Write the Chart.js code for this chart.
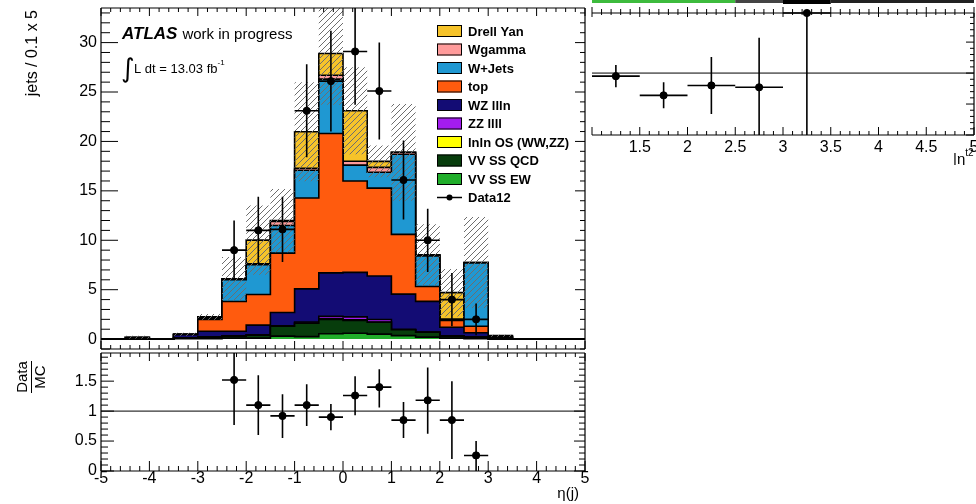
<!DOCTYPE html>
<html>
<head>
<meta charset="utf-8">
<script src="https://cdn.jsdelivr.net/npm/chart.js@4.4.1/dist/chart.umd.min.js"></script>
<style>
  html, body { margin: 0; padding: 0; background: #fff; }
  #page { position: relative; width: 976px; height: 504px; overflow: hidden; background: #fff; }
  canvas { position: absolute; }
  #side { left: 587px; top: 0; }
  #upper { left: 0; top: 0; }
  #lower { left: 0; top: 340px; }
</style>
</head>
<body>
<div id="page">
  <canvas id="side" width="392" height="165"></canvas>
  <canvas id="upper" width="600" height="354"></canvas>
  <canvas id="lower" width="600" height="164"></canvas>
</div>
<script>
// eta(j) binning, 20 bins of 0.5
const binEdges = [-5, -4.5, -4, -3.5, -3, -2.5, -2, -1.5, -1, -0.5, 0, 0.5, 1, 1.5, 2, 2.5, 3, 3.5, 4, 4.5, 5];

// background yields per bin, bottom of the stack first
const vvSSEW   = [0, 0, 0, 0.05, 0.05, 0.1, 0.1, 0.3, 0.25, 0.55, 0.6, 0.5, 0.35, 0.2, 0.1, 0.05, 0, 0, 0, 0];
const vvSSQCD  = [0, 0, 0, 0.05, 0.15, 0.2, 0.3, 1.0, 1.35, 1.45, 1.3, 1.2, 0.6, 0.5, 0.2, 0.15, 0.05, 0, 0, 0];
const lnlnOS   = [0, 0, 0, 0, 0, 0, 0, 0, 0.03, 0.05, 0.05, 0.03, 0, 0, 0, 0, 0, 0, 0, 0];
const zzllll   = [0, 0, 0, 0, 0, 0, 0.02, 0.05, 0.1, 0.25, 0.3, 0.25, 0.05, 0.02, 0, 0, 0, 0, 0, 0];
const wzllln   = [0, 0.05, 0, 0.35, 0.6, 0.5, 1.0, 1.35, 3.35, 4.4, 4.5, 4.4, 3.55, 3.1, 0.9, 0.45, 0.1, 0.02, 0, 0];
const topQuark = [0, 0, 0, 0, 1.2, 3.0, 3.1, 6.0, 9.2, 14.1, 9.25, 8.9, 6.05, 1.5, 0.7, 0.65, 0.1, 0, 0, 0];
const wJets    = [0, 0, 0, 0, 0.05, 2.2, 3.0, 2.8, 2.8, 5.5, 1.6, 1.6, 8.1, 3.1, 0.1, 6.4, 0, 0, 0, 0];
const wGamma   = [0, 0, 0, 0, 0.1, 0.1, 0.1, 0.4, 0.2, 0.4, 0.4, 0.5, 0.2, 0.1, 0, 0.05, 0, 0, 0, 0];
const drellYan = [0, 0.15, 0, 0.05, 0.1, 0, 2.4, 0.1, 3.7, 2.2, 5.1, 0.6, 0, 0, 2.7, 0, 0.1, 0, 0, 0];
// MC uncertainty (hatched band half-width)
const mcUnc    = [0, 0.15, 0, 0.15, 0.3, 2.2, 3.5, 3.2, 5.0, 5.2, 4.4, 1.6, 4.9, 3.1, 2.4, 4.6, 0.1, 0, 0, 0];

const stackNames  = ['VV SS EW', 'VV SS QCD', 'lnln OS (WW,ZZ)', 'ZZ llll', 'WZ llln', 'top', 'W+Jets', 'Wgamma', 'Drell Yan'];
const stackColors = ['#20ad2a', '#073d0c', '#ffff00', '#a31cf0', '#130c74', '#ff5b0e', '#1f98d2', '#ff9b9b', '#f6c32a'];
const stackValues = [vvSSEW, vvSSQCD, lnlnOS, zzllll, wzllln, topQuark, wJets, wGamma, drellYan];

// Data12
const dataEta  = [-2.25, -1.75, -1.25, -0.75, -0.25, 0.25, 0.75, 1.25, 1.75, 2.25, 2.75];
const dataJets = [9.0, 11.0, 11.1, 23.1, 26.1, 29.1, 25.1, 16.1, 10.0, 4.0, 2.0];
const dataErr  = [3.0, 3.4, 3.3, 4.7, 5.1, 5.4, 4.9, 4.0, 3.2, 2.7, 1.6];

// Data/MC
const ratioVal = [1.52, 1.10, 0.92, 1.10, 0.90, 1.26, 1.40, 0.85, 1.18, 0.85, 0.26];
const ratioLo  = [0.77, 0.60, 0.55, 0.75, 0.68, 0.93, 1.06, 0.55, 0.62, 0.20, 0.0];
const ratioHi  = [2.10, 1.60, 1.28, 1.45, 1.12, 1.58, 1.70, 1.15, 1.73, 1.50, 0.50];

// neighbouring |eta t2| ratio panel
const sideEta = [1.25, 1.75, 2.25, 2.75, 3.25];
const sideVal = [0.95, 0.64, 0.80, 0.77, 1.97];
const sideLo  = [0.77, 0.43, 0.34, 0.0, 0.0];
const sideHi  = [1.13, 0.85, 1.26, 1.57, 2.2];
const sideStripEdges  = [1, 2.5, 3, 3.5, 5];
const sideStripColors = ['#3dbb3d', '#444', '#000', '#222'];

const yTicksMain  = [0, 5, 10, 15, 20, 25, 30];
const yTicksRatio = [0, 0.5, 1, 1.5];
const xTicksMain  = [-5, -4, -3, -2, -1, 0, 1, 2, 3, 4, 5];
const xTicksSide  = [1.5, 2, 2.5, 3, 3.5, 4, 4.5, 5];

const FONT = "'Liberation Sans', Arial, Helvetica, sans-serif";
Chart.defaults.font.family = FONT;
Chart.defaults.font.size = 16;
Chart.defaults.color = '#000';

const histPoints = vals => binEdges.map((x, i) => ({ x, y: vals[Math.min(i, vals.length - 1)] }));
const mcTotal = vvSSEW.map((_, i) => stackValues.reduce((s, v) => s + v[i], 0));
const plainLabel = v => String(v);

function hatchPattern() {
  const c = document.createElement('canvas');
  c.width = c.height = 6;
  const g = c.getContext('2d');
  g.strokeStyle = '#6e6e6e';
  g.lineWidth = 1;
  g.beginPath();
  g.moveTo(0, 6); g.lineTo(6, 0);
  g.moveTo(-1, 1); g.lineTo(1, -1);
  g.moveTo(5, 7); g.lineTo(7, 5);
  g.stroke();
  return g.createPattern(c, 'repeat');
}

// ROOT style frame with inward ticks
function eachTick(scale, minor, major, cb) {
  const first = Math.ceil(scale.min / minor - 1e-6);
  const last = Math.floor(scale.max / minor + 1e-6);
  for (let k = first; k <= last; k++) {
    const v = k * minor;
    const r = v / major;
    cb(scale.getPixelForValue(v), Math.abs(r - Math.round(r)) < 1e-6);
  }
}
const rootFrame = {
  id: 'rootFrame',
  afterDatasetsDraw(chart, args, o) {
    const { ctx, chartArea: a, scales: { x, y } } = chart;
    ctx.save();
    ctx.strokeStyle = '#000';
    ctx.lineWidth = 1.2;
    ctx.beginPath();
    const sides = o.sides;
    if (sides.includes('top'))    { ctx.moveTo(a.left, a.top); ctx.lineTo(a.right, a.top); }
    if (sides.includes('bottom')) { ctx.moveTo(a.left, a.bottom); ctx.lineTo(a.right, a.bottom); }
    if (sides.includes('left'))   { ctx.moveTo(a.left, a.top); ctx.lineTo(a.left, a.bottom); }
    if (sides.includes('right'))  { ctx.moveTo(a.right, a.top); ctx.lineTo(a.right, a.bottom); }
    ctx.stroke();
    ctx.lineWidth = 1;
    ctx.beginPath();
    eachTick(x, o.x.minor, o.x.major, (px, big) => {
      const k = big ? 0 : 1;
      if (o.x.top)    { ctx.moveTo(px, a.top); ctx.lineTo(px, a.top + o.x.top[k]); }
      if (o.x.topOut) { ctx.moveTo(px, a.top); ctx.lineTo(px, a.top - o.x.topOut[k]); }
      if (o.x.bottom) { ctx.moveTo(px, a.bottom); ctx.lineTo(px, a.bottom - o.x.bottom[k]); }
    });
    eachTick(y, o.y.minor, o.y.major, (py, big) => {
      const k = big ? 0 : 1;
      if (o.y.left)  { ctx.moveTo(a.left, py); ctx.lineTo(a.left + o.y.left[k], py); }
      if (o.y.right) { ctx.moveTo(a.right, py); ctx.lineTo(a.right - o.y.right[k], py); }
    });
    ctx.stroke();
    ctx.restore();
  }
};

// vertical and horizontal error bars on datasets carrying errLo/errHi
const errorBars = {
  id: 'errorBars',
  afterDatasetsDraw(chart) {
    const { ctx, chartArea: a, scales: { x, y } } = chart;
    ctx.save();
    ctx.beginPath();
    ctx.rect(a.left - 2, a.top - 2, a.width + 4, a.height + 4);
    ctx.clip();
    ctx.strokeStyle = '#000';
    ctx.lineWidth = 1.6;
    chart.data.datasets.forEach(ds => {
      if (!ds.errLo) return;
      ds.data.forEach((p, i) => {
        const px = x.getPixelForValue(p.x);
        const py = y.getPixelForValue(p.y);
        ctx.beginPath();
        ctx.moveTo(px, Math.min(y.getPixelForValue(ds.errLo[i]), a.bottom));
        ctx.lineTo(px, Math.max(y.getPixelForValue(ds.errHi[i]), a.top));
        ctx.moveTo(x.getPixelForValue(p.x - ds.halfWidth), py);
        ctx.lineTo(x.getPixelForValue(p.x + ds.halfWidth), py);
        ctx.stroke();
      });
    });
    ctx.restore();
  }
};

const upperText = {
  id: 'upperText',
  afterDraw(chart) {
    const ctx = chart.ctx;
    ctx.save();
    ctx.fillStyle = '#000';
    ctx.font = `italic bold 17px ${FONT}`;
    ctx.fillText('ATLAS', 122, 39);
    const w = ctx.measureText('ATLAS').width;
    ctx.font = `15px ${FONT}`;
    ctx.fillText('work in progress', 122 + w + 5, 39);

    ctx.font = "26px 'DejaVu Sans'";
    ctx.fillText('\u222B', 121, 77);
    ctx.font = `13px ${FONT}`;
    ctx.fillText('L dt = 13.03 fb', 134, 73);
    const lw = ctx.measureText('L dt = 13.03 fb').width;
    ctx.font = `8px ${FONT}`;
    ctx.fillText('-1', 134 + lw, 65);

    // legend, top entry first
    const names = stackNames.slice().reverse();
    const colors = stackColors.slice().reverse();
    const lx = 437, ly = 25, step = 18.5;
    ctx.font = `bold 13px ${FONT}`;
    ctx.textBaseline = 'middle';
    names.forEach((n, i) => {
      const cy = ly + 6 + i * step;
      ctx.fillStyle = colors[i];
      ctx.fillRect(lx, cy - 6, 25, 12);
      ctx.strokeStyle = '#000';
      ctx.lineWidth = 1;
      ctx.strokeRect(lx + 0.5, cy - 5.5, 24, 11);
      ctx.fillStyle = '#000';
      ctx.fillText(n, lx + 31, cy + 1);
    });
    const dy = ly + 6 + names.length * step;
    ctx.beginPath();
    ctx.lineWidth = 1.5;
    ctx.moveTo(lx, dy); ctx.lineTo(lx + 25, dy);
    ctx.stroke();
    ctx.beginPath();
    ctx.arc(lx + 12.5, dy, 3, 0, Math.PI * 2);
    ctx.fill();
    ctx.fillText('Data12', lx + 31, dy + 1);

    // y title
    ctx.translate(33, 10);
    ctx.rotate(-Math.PI / 2);
    ctx.font = `16px ${FONT}`;
    ctx.textAlign = 'right';
    ctx.textBaseline = 'middle';
    ctx.fillText('jets / 0.1 x 5', 0, 0);
    ctx.restore();
  }
};

const lowerText = {
  id: 'lowerText',
  afterDraw(chart) {
    const ctx = chart.ctx;
    ctx.save();
    ctx.fillStyle = '#000';
    ctx.font = `15px ${FONT}`;
    ctx.textAlign = 'right';
    ctx.fillText('\u03B7(j)', 579, 158);
    ctx.translate(31, 37);
    ctx.rotate(-Math.PI / 2);
    ctx.textAlign = 'center';
    ctx.textBaseline = 'bottom';
    ctx.fillText('Data', 0, -1);
    ctx.textBaseline = 'top';
    ctx.fillText('MC', 0, 2);
    ctx.strokeStyle = '#000';
    ctx.lineWidth = 1;
    ctx.beginPath();
    ctx.moveTo(-16, 0.5); ctx.lineTo(16, 0.5);
    ctx.stroke();
    ctx.restore();
  }
};

const sideText = {
  id: 'sideText',
  afterDraw(chart) {
    const { ctx, scales: { x } } = chart;
    ctx.save();
    for (let i = 0; i < sideStripColors.length; i++) {
      const x0 = x.getPixelForValue(sideStripEdges[i]);
      const x1 = x.getPixelForValue(sideStripEdges[i + 1]);
      ctx.fillStyle = sideStripColors[i];
      ctx.fillRect(x0, 0, x1 - x0, sideStripColors[i] === '#000' ? 4 : 3);
    }
    ctx.fillStyle = '#000';
    ctx.font = `15px ${FONT}`;
    ctx.fillText('|\u03B7', 366, 164);
    const w = ctx.measureText('|\u03B7').width;
    ctx.font = `10px ${FONT}`;
    ctx.fillText('t2', 366 + w, 156);
    ctx.restore();
  }
};

// stepped 'before': horizontal run at each bin's value from its low edge to the next edge
const lineBase = { stepped: 'before', pointRadius: 0, tension: 0 };
const hiddenBorder = { borderWidth: 0, borderColor: 'rgba(0,0,0,0)' };

new Chart(document.getElementById('upper'), {
  type: 'line',
  data: {
    datasets: [
      { ...lineBase, ...hiddenBorder, data: histPoints(mcTotal.map((t, i) => t - mcUnc[i])), stack: 'bandLo', fill: false },
      { ...lineBase, ...hiddenBorder, data: histPoints(mcTotal.map((t, i) => t + mcUnc[i])), stack: 'bandHi', fill: '-1', backgroundColor: hatchPattern() },
      ...stackValues.map((v, k) => ({
        ...lineBase, label: stackNames[k], data: histPoints(v),
        fill: k === 0 ? 'origin' : '-1', backgroundColor: stackColors[k],
        borderColor: '#000', borderWidth: 1.6
      })),
      {
        label: 'Data12', data: dataEta.map((x, i) => ({ x, y: dataJets[i] })), stack: 'data',
        showLine: false, pointRadius: 3.6, pointBackgroundColor: '#000', pointBorderColor: '#000', order: -1,
        errLo: dataJets.map((v, i) => v - dataErr[i]), errHi: dataJets.map((v, i) => v + dataErr[i]), halfWidth: 0.25
      }
    ]
  },
  options: {
    responsive: false, animation: false, devicePixelRatio: 1,
    layout: { padding: { top: 8, right: 15, bottom: 1, left: 0 } },
    scales: {
      x: { type: 'linear', min: -5, max: 5, display: false },
      y: {
        type: 'linear', min: -1, max: 33.5, stacked: true,
        grid: { display: false, drawTicks: false }, border: { display: false },
        ticks: { padding: 4, font: { size: 16 }, callback: plainLabel },
        afterBuildTicks: s => { s.ticks = yTicksMain.map(value => ({ value })); },
        afterFit: s => { s.width = 101; s.paddingTop = 0; s.paddingBottom = 0; }
      }
    },
    plugins: {
      legend: { display: false }, tooltip: { enabled: false },
      rootFrame: {
        sides: ['top', 'bottom', 'left', 'right'],
        x: { minor: 0.2, major: 1, top: [8, 4], bottom: [8, 4] },
        y: { minor: 1, major: 5, left: [17, 9], right: [10, 5] }
      }
    }
  },
  plugins: [rootFrame, errorBars, upperText]
});

new Chart(document.getElementById('lower'), {
  type: 'line',
  data: {
    datasets: [
      {
        data: dataEta.map((x, i) => ({ x, y: ratioVal[i] })), showLine: false,
        pointRadius: 3.6, pointBackgroundColor: '#000', pointBorderColor: '#000',
        errLo: ratioLo, errHi: ratioHi, halfWidth: 0.25
      },
      { data: [{ x: -5, y: 1 }, { x: 5, y: 1 }], borderColor: '#000', borderWidth: 1, pointRadius: 0 }
    ]
  },
  options: {
    responsive: false, animation: false, devicePixelRatio: 1,
    layout: { padding: { top: 13, right: 15, bottom: 0, left: 0 } },
    scales: {
      x: {
        type: 'linear', min: -5, max: 5,
        grid: { display: false, drawTicks: false }, border: { display: false },
        ticks: { padding: -2, autoSkip: false, maxRotation: 0, callback: plainLabel },
        afterBuildTicks: s => { s.ticks = xTicksMain.map(value => ({ value })); },
        afterFit: s => { s.height = 33; s.paddingLeft = 0; s.paddingRight = 0; }
      },
      y: {
        type: 'linear', min: 0, max: 1.97,
        grid: { display: false, drawTicks: false }, border: { display: false },
        ticks: { padding: 4, callback: plainLabel },
        afterBuildTicks: s => { s.ticks = yTicksRatio.map(value => ({ value })); },
        afterFit: s => { s.width = 101; s.paddingTop = 0; s.paddingBottom = 0; }
      }
    },
    plugins: {
      legend: { display: false }, tooltip: { enabled: false },
      rootFrame: {
        sides: ['top', 'bottom', 'left', 'right'],
        x: { minor: 0.2, major: 1, top: [8, 4], bottom: [10, 5] },
        y: { minor: 0.1, major: 0.5, left: [13, 7], right: [11, 6] }
      }
    }
  },
  plugins: [rootFrame, errorBars, lowerText]
});

new Chart(document.getElementById('side'), {
  type: 'line',
  data: {
    datasets: [
      {
        data: sideEta.map((x, i) => ({ x, y: sideVal[i] })), showLine: false, clip: 6,
        pointRadius: 3.6, pointBackgroundColor: '#000', pointBorderColor: '#000',
        errLo: sideLo, errHi: sideHi, halfWidth: 0.25
      },
      { data: [{ x: 1, y: 1 }, { x: 5, y: 1 }], borderColor: '#000', borderWidth: 1, pointRadius: 0 }
    ]
  },
  options: {
    responsive: false, animation: false, devicePixelRatio: 1,
    layout: { padding: { top: 13, right: 4, bottom: 0, left: 0 } },
    scales: {
      x: {
        type: 'linear', min: 1, max: 5,
        grid: { display: false, drawTicks: false }, border: { display: false },
        ticks: { padding: 3, autoSkip: false, maxRotation: 0, callback: plainLabel },
        afterBuildTicks: s => { s.ticks = xTicksSide.map(value => ({ value })); },
        afterFit: s => { s.height = 30; s.paddingLeft = 0; s.paddingRight = 0; }
      },
      y: { type: 'linear', min: 0, max: 1.97, display: false }
    },
    plugins: {
      legend: { display: false }, tooltip: { enabled: false },
      rootFrame: {
        sides: ['top', 'bottom', 'right'],
        x: { minor: 0.1, major: 0.5, top: [4, 2], topOut: [6, 4], bottom: [8, 4] },
        y: { minor: 0.1, major: 0.5, right: [8, 4] }
      }
    }
  },
  plugins: [rootFrame, errorBars, sideText]
});
</script>
</body>
</html>
